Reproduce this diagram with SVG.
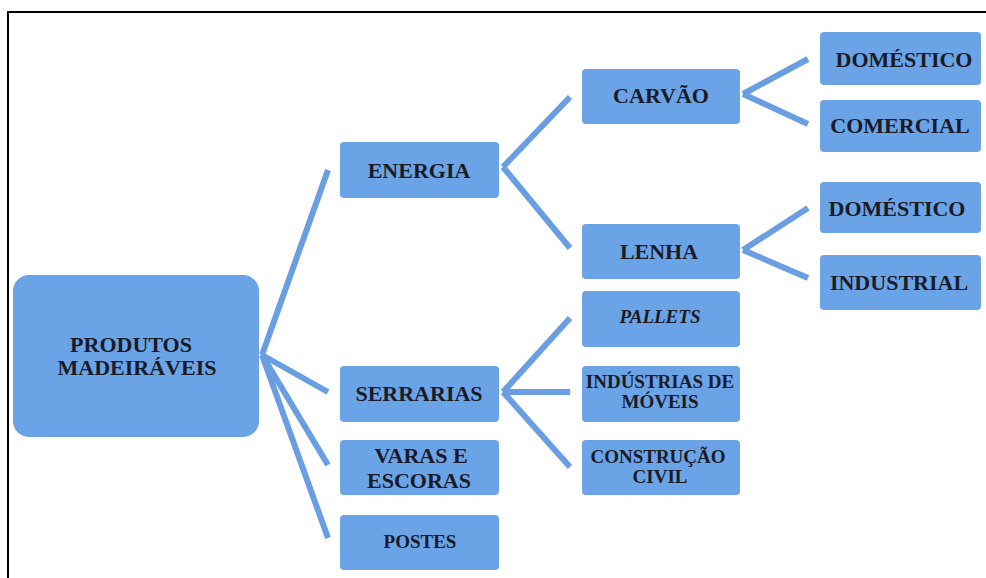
<svg xmlns="http://www.w3.org/2000/svg" width="986" height="578" viewBox="0 0 986 578">
<style>
.box{fill:#6aa3e6;}
.t{font-weight:bold;fill:#1b1b28;text-anchor:middle;}
.c{stroke:#6a9ee2;stroke-width:6;fill:none;stroke-linecap:butt;}
</style>
<rect width="986" height="578" fill="#ffffff"/>
<path d="M8,578 V12 H986" fill="none" stroke="#000" stroke-width="2"/>
<g id="connectors">
<line class="c" x1="262" y1="355" x2="328" y2="170"/>
<line class="c" x1="262" y1="355" x2="328" y2="392"/>
<line class="c" x1="262" y1="355" x2="328" y2="465"/>
<line class="c" x1="262" y1="355" x2="328" y2="538"/>
<line class="c" x1="503" y1="167" x2="570" y2="97"/>
<line class="c" x1="503" y1="167" x2="570" y2="248"/>
<line class="c" x1="743" y1="94" x2="808" y2="59"/>
<line class="c" x1="743" y1="94" x2="808" y2="124"/>
<line class="c" x1="743" y1="250" x2="808" y2="208"/>
<line class="c" x1="743" y1="250" x2="808" y2="278"/>
<line class="c" x1="503" y1="392" x2="570" y2="318"/>
<line class="c" x1="503" y1="392" x2="570" y2="392"/>
<line class="c" x1="503" y1="392" x2="570" y2="467"/>
</g>
<g font-family="Liberation Serif, Times New Roman, serif">
<g id="root"><rect class="box" x="13" y="275" width="246" height="162" rx="16"/><text class="t" font-size="22" x="131" y="352">PRODUTOS</text><text class="t" font-size="22" x="137" y="375">MADEIRÁVEIS</text></g>
<g id="energia"><rect class="box" x="340" y="142" width="159" height="56" rx="4"/><text class="t" font-size="22" x="419" y="178">ENERGIA</text></g>
<g id="serrarias"><rect class="box" x="340" y="366" width="159" height="56" rx="4"/><text class="t" font-size="22" x="419" y="401">SERRARIAS</text></g>
<g id="varas"><rect class="box" x="340" y="440" width="159" height="55" rx="4"/><text class="t" font-size="22" x="421" y="463">VARAS E</text><text class="t" font-size="22" x="419" y="488">ESCORAS</text></g>
<g id="postes"><rect class="box" x="340" y="515" width="159" height="55" rx="4"/><text class="t" font-size="19" x="420" y="548">POSTES</text></g>
<g id="carvao"><rect class="box" x="582" y="69" width="158" height="55" rx="4"/><text class="t" font-size="22" x="661" y="103">CARVÃO</text></g>
<g id="lenha"><rect class="box" x="582" y="224" width="158" height="55" rx="4"/><text class="t" font-size="22" x="659" y="259">LENHA</text></g>
<g id="pallets"><rect class="box" x="582" y="291" width="158" height="56" rx="4"/><text class="t" font-size="19" font-style="italic" x="660" y="323">PALLETS</text></g>
<g id="moveis"><rect class="box" x="582" y="366" width="158" height="56" rx="4"/><text class="t" font-size="19" x="660" y="388">INDÚSTRIAS DE</text><text class="t" font-size="19" x="660" y="408">MÓVEIS</text></g>
<g id="construcao"><rect class="box" x="582" y="440" width="158" height="55" rx="4"/><text class="t" font-size="19" x="658" y="463">CONSTRUÇÃO</text><text class="t" font-size="19" x="660" y="483">CIVIL</text></g>
<g id="domestico1"><rect class="box" x="820" y="32" width="161" height="53" rx="4"/><text class="t" font-size="22" x="904" y="67">DOMÉSTICO</text></g>
<g id="comercial"><rect class="box" x="820" y="100" width="161" height="52" rx="4"/><text class="t" font-size="22" x="900" y="133">COMERCIAL</text></g>
<g id="domestico2"><rect class="box" x="820" y="182" width="161" height="51" rx="4"/><text class="t" font-size="22" x="897" y="216">DOMÉSTICO</text></g>
<g id="industrial"><rect class="box" x="820" y="255" width="161" height="55" rx="4"/><text class="t" font-size="22" x="899" y="290">INDUSTRIAL</text></g>
</g>
</svg>
